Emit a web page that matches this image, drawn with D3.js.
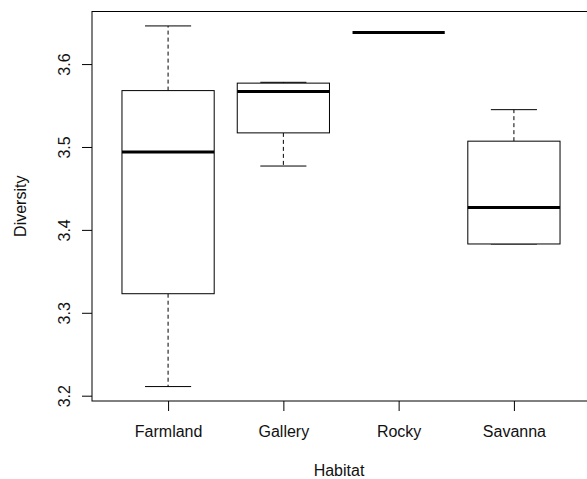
<!DOCTYPE html>
<html>
<head>
<meta charset="utf-8">
<script src="https://cdn.jsdelivr.net/npm/d3@7"></script>
<style>
body { margin: 0; background: #fff; }
text { font-family: "Liberation Sans", Arial, sans-serif; font-size: 16px; fill: #111; }
</style>
</head>
<body>
<div id="chart"></div>
<script>
var w = 587,
	h = 479;

// data
var categories = ["Farmland", "Gallery", "Rocky", "Savanna"];
var lower = [3.211, 3.477, 3.638, 3.383];
var q1 = [3.323, 3.517, 3.638, 3.383];
var median = [3.494, 3.567, 3.638, 3.427];
var q3 = [3.568, 3.577, 3.638, 3.507];
var upper = [3.646, 3.578, 3.638, 3.545];
var yTicks = [3.2, 3.3, 3.4, 3.5, 3.6];

var plotLeft = 92,
	plotTop = 11.5,
	plotBottom = 401,
	plotRight = 590;

var root = d3.select("#chart").append("svg").attr("width", w).attr("height", h);

// R style 4% range extension
var lo = d3.min(lower), hi = d3.max(upper), pad = (hi - lo) * 0.04;
var y = d3.scaleLinear().domain([lo - pad, hi + pad]).range([plotBottom, plotTop]);
var n = categories.length;
var x = d3.scaleLinear().domain([0.5 - n * 0.04, n + 0.5 + n * 0.04]).range([plotLeft, plotRight]);

var stats = categories.map(function(c, i) {
	return { name: c, pos: i + 1, lo: lower[i], q1: q1[i], med: median[i], q3: q3[i], hi: upper[i] };
});

var boxHalf = 0.4, capHalf = 0.2;

var g = root.selectAll("g.box").data(stats).enter().append("g").attr("class", "box");

// whiskers
g.append("line")
	.attr("x1", function(d) { return x(d.pos); }).attr("x2", function(d) { return x(d.pos); })
	.attr("y1", function(d) { return y(d.q3); }).attr("y2", function(d) { return y(d.hi); })
	.style("stroke", "#000").style("stroke-dasharray", "4,3");
g.append("line")
	.attr("x1", function(d) { return x(d.pos); }).attr("x2", function(d) { return x(d.pos); })
	.attr("y1", function(d) { return y(d.q1); }).attr("y2", function(d) { return y(d.lo); })
	.style("stroke", "#000").style("stroke-dasharray", "4,3");

// caps
["hi", "lo"].forEach(function(k) {
	g.append("line")
		.attr("x1", function(d) { return x(d.pos - capHalf); }).attr("x2", function(d) { return x(d.pos + capHalf); })
		.attr("y1", function(d) { return y(d[k]); }).attr("y2", function(d) { return y(d[k]); })
		.style("stroke", "#000").style("stroke-width", 1);
});

// box
g.append("rect")
	.attr("x", function(d) { return x(d.pos - boxHalf); })
	.attr("width", function(d) { return x(d.pos + boxHalf) - x(d.pos - boxHalf); })
	.attr("y", function(d) { return y(d.q3); })
	.attr("height", function(d) { return y(d.q1) - y(d.q3); })
	.style("fill", "#fff").style("stroke", "#000").style("stroke-width", 1);

// median
g.append("line")
	.attr("x1", function(d) { return x(d.pos - boxHalf); }).attr("x2", function(d) { return x(d.pos + boxHalf); })
	.attr("y1", function(d) { return y(d.med); }).attr("y2", function(d) { return y(d.med); })
	.style("stroke", "#000").style("stroke-width", 3);

// frame
root.append("rect").attr("x", plotLeft).attr("y", plotTop).attr("width", plotRight - plotLeft).attr("height", plotBottom - plotTop)
	.style("fill", "none").style("stroke", "#000").style("stroke-width", 1);

// y axis
var yAxis = root.append("g").attr("transform", "translate(" + plotLeft + ",0)")
	.call(d3.axisLeft(y).tickValues(yTicks).tickSize(10).tickFormat(d3.format(".1f")));
yAxis.select(".domain").remove();
yAxis.selectAll(".tick line").style("stroke", "#000");
yAxis.selectAll(".tick text").remove();
yAxis.selectAll(".tick").append("text")
	.attr("transform", "translate(-22,0) rotate(-90)")
	.attr("text-anchor", "middle")
	.text(function(d) { return d3.format(".1f")(d); });

// x axis
var xAxis = root.append("g").attr("transform", "translate(0," + plotBottom + ")")
	.call(d3.axisBottom(x).tickValues(stats.map(function(d) { return d.pos; })).tickSize(10).tickFormat(""));
xAxis.select(".domain").remove();
xAxis.selectAll(".tick line").style("stroke", "#000");
xAxis.selectAll(".tick").append("text")
	.attr("y", 36).attr("text-anchor", "middle")
	.text(function(d) { return categories[d - 1]; });

// axis titles
root.append("text").attr("x", (plotLeft + plotRight) / 2 - 2).attr("y", 476).attr("text-anchor", "middle").text("Habitat");
root.append("text").attr("transform", "translate(26," + (plotTop + plotBottom) / 2 + ") rotate(-90)")
	.attr("text-anchor", "middle").text("Diversity");
</script>
</body>
</html>
